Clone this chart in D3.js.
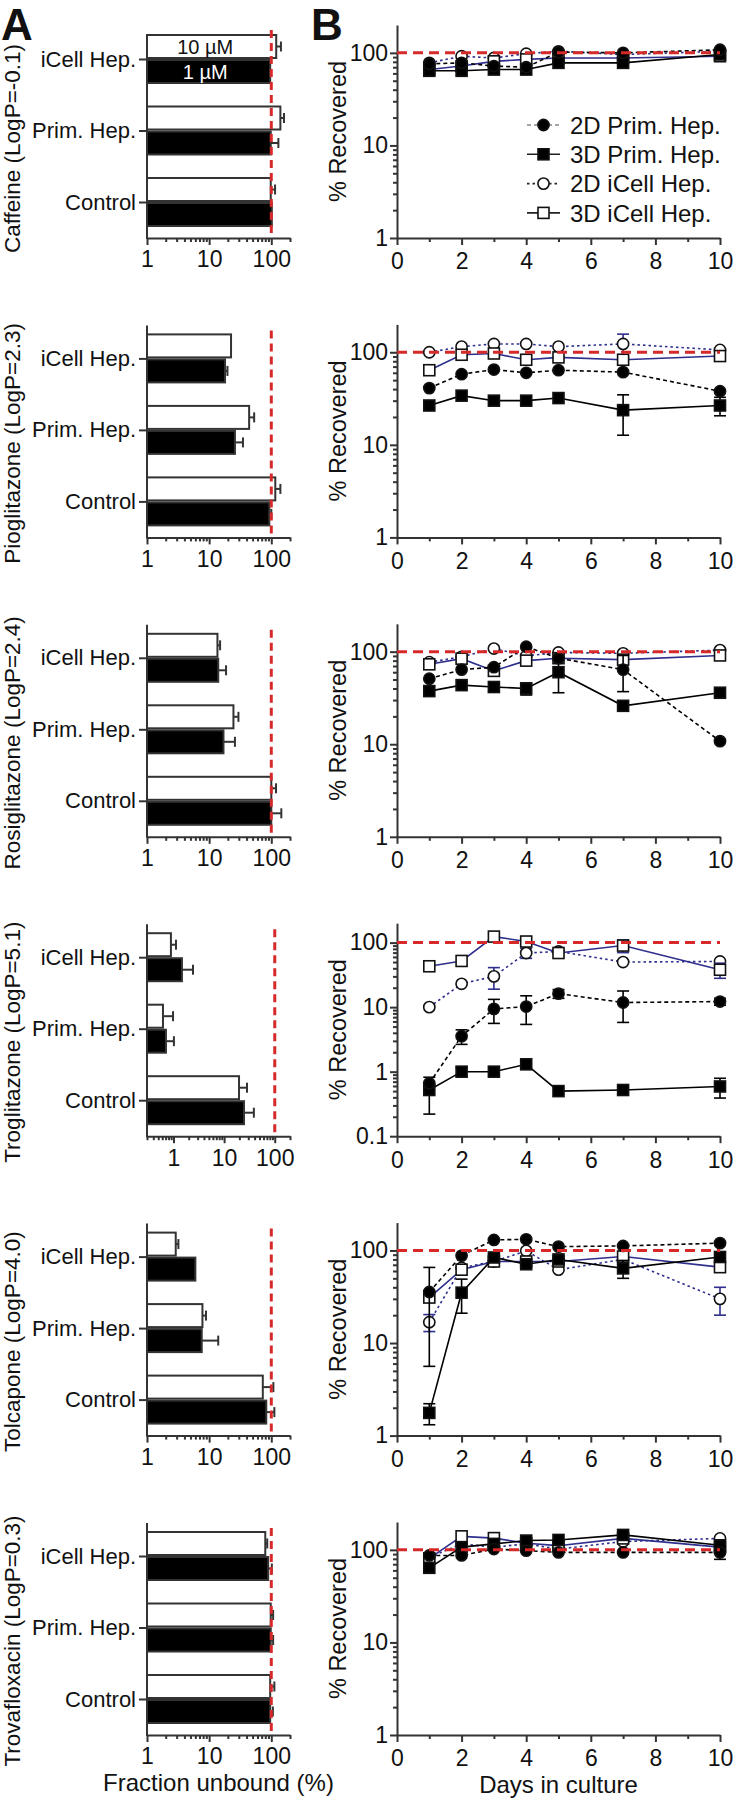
<!DOCTYPE html>
<html>
<head>
<meta charset="utf-8">
<script src="https://cdn.jsdelivr.net/npm/d3@7"></script>
<style>
  body { margin: 0; background: #fff; }
  text { font-family: "Liberation Sans", Arial, sans-serif; fill: #111; }
</style>
</head>
<body>
<script>
// ---- data ----
var drugs = ["Caffeine", "Pioglitazone", "Rosiglitazone", "Troglitazone", "Tolcapone", "Trovafloxacin"];
var logP = ["-0.1", "2.3", "2.4", "5.1", "4.0", "0.3"];
var cells = ["iCell Hep.", "Prim. Hep.", "Control"];

// fraction unbound (%), order = cells; 10 uM (white) and 1 uM (black)
var fu10 = [[120, 140, 98], [22.5, 44, 116], [13.6, 24.6, 100], [0.89, 0.62, 19.7], [2.9, 7.8, 73], [80, 98, 96]];
var fu10Sd = [[23, 20, 17], [0, 9, 24], [1.4, 5, 19], [0.23, 0.36, 8.6], [0.3, 1.1, 35], [6, 9, 16]];
var fu1 = [[96, 98, 102], [18, 26, 93], [14, 17, 100], [1.47, 0.71, 24.7], [6.0, 7.6, 83], [89, 98, 96]];
var fu1Sd = [[0, 32, 0], [1.7, 9, 7], [4.7, 9, 45], [0.96, 0.31, 14], [0, 6.4, 29], [13, 9, 10]];

// % recovered vs days in culture
var days = [1, 2, 3, 4, 5, 7, 10];
var seriesNames = ["2D Prim. Hep.", "3D Prim. Hep.", "2D iCell Hep.", "3D iCell Hep."];
var rec2DPrim = [
  [76, 78, 72, 70, 102, 100, 108],
  [41, 58, 65, 60, 64, 61, 38],
  [51, 64, 68, 113, 85, 64, 10.8],
  [0.66, 3.55, 9.4, 10.2, 16.2, 11.8, 12.2],
  [35.6, 88, 130, 132, 110, 112, 120],
  [87, 87, 102, 98, 94, 94, 94]
];
var rec3DPrim = [
  [64, 64, 66, 66, 78, 78, 96],
  [26.6, 34, 30, 30, 32, 23.7, 26.6],
  [37.5, 43.5, 41.5, 40, 60, 26, 36],
  [0.52, 1.0, 1.0, 1.3, 0.5, 0.52, 0.59],
  [1.76, 35, 84, 71, 80, 64, 85],
  [64, 107, 116, 126, 128, 145, 112]
];
var rec2DiCell = [
  [78, 92, 88, 98, 104, 96, 104],
  [100, 115, 123, 123, 115, 123, 106],
  [77, 88, 108, 90, 98, 96, 104],
  [10, 23, 30, 69, 73, 50, 51],
  [16.8, 65, 76, 99, 62, 80, 30],
  [83, 116, 107, 116, 102, 123, 133]
];
var rec3DiCell = [
  [66, 72, 81, 85, 88, 88, 92],
  [64, 94, 97, 83, 88, 83, 91],
  [73, 84, 62, 80, 85, 82, 91],
  [43, 52, 124, 104, 69, 90, 38],
  [31, 62, 76, 76, 76, 86, 66],
  [81, 140, 134, 118, 111, 133, 107]
];
var sd2DPrim = [
  [0, 0, 0, 0, 0, 0, 0], [0, 0, 0, 0, 0, 0, 0], [0, 0, 0, 0, 0, 27, 0],
  [0, 0.9, 3.8, 4.8, 2.5, 6, 1.5], [30, 0, 0, 0, 0, 0, 0], [0, 0, 0, 0, 0, 0, 15]
];
var sd3DPrim = [
  [0, 0, 0, 0, 0, 0, 0], [0, 0, 0, 0, 0, 11, 6], [0, 0, 5, 6, 24, 0, 0],
  [0.3, 0.15, 0, 0, 0, 0, 0.2], [0.45, 14, 0, 0, 0, 14, 0], [0, 0, 0, 0, 0, 0, 0]
];
var sd2DiCell = [
  [0, 0, 0, 0, 0, 0, 0], [0, 0, 0, 0, 0, 34, 0], [0, 0, 0, 0, 0, 0, 0],
  [0, 0, 11, 12, 0, 0, 0], [3.5, 0, 0, 0, 0, 0, 10], [0, 0, 0, 0, 0, 0, 0]
];
var sd3DiCell = [
  [0, 0, 0, 0, 0, 0, 0], [0, 0, 0, 0, 0, 0, 0], [0, 0, 0, 0, 0, 0, 0],
  [0, 0, 0, 0, 0, 20, 10], [0, 0, 0, 0, 0, 0, 0], [0, 0, 0, 0, 0, 0, 0]
];

var fuTicks = [1, 10, 100];
var dayTicks = [0, 2, 4, 6, 8, 10];

// ---- layout ----
var W = 734, H = 1800;
var aLeft = 147, aRight = 290, bLeft = 397, bRight = 720;
var axisColor = "#333", red = "#d62a2a", blue = "#2e2e8c";

var styles = [
  { vals: rec2DPrim, sd: sd2DPrim, shape: "circle", fill: "#000", color: "#000", dash: "4,3" },
  { vals: rec3DPrim, sd: sd3DPrim, shape: "square", fill: "#000", color: "#000", dash: null },
  { vals: rec2DiCell, sd: sd2DiCell, shape: "circle", fill: "#fff", color: blue, dash: "2.5,3" },
  { vals: rec3DiCell, sd: sd3DiCell, shape: "square", fill: "#fff", color: blue, dash: null }
];
var drawOrder = [2, 3, 1, 0];

var svg = d3.select("body").append("svg")
  .attr("width", W).attr("height", H);

function minorTicks(lo, hi) {
  var out = [];
  for (var e = -2; e <= 3; e++) {
    for (var m = 1; m <= 9; m++) {
      var v = +(m * Math.pow(10, e)).toPrecision(3);
      if (m > 1 && v >= lo * 0.999 && v <= hi * 1.001) out.push(v);
    }
  }
  return out;
}

function styleAxis(g, fs) {
  g.selectAll("path, line").attr("stroke", axisColor).attr("stroke-width", 2);
  g.selectAll("text").attr("fill", "#111").style("font-size", fs + "px")
    .style("font-family", '"Liberation Sans", Arial, sans-serif');
}

function drawMarkers(g, pts, st, fx, fy) {
  if (st.shape === "circle") {
    g.selectAll(null).data(pts).enter().append("circle")
      .attr("cx", fx).attr("cy", fy).attr("r", 5.6)
      .attr("fill", st.fill).attr("stroke", "#111").attr("stroke-width", 1.6);
  } else {
    g.selectAll(null).data(pts).enter().append("rect")
      .attr("x", function(p) { return fx(p) - 5.5; }).attr("y", function(p) { return fy(p) - 5.5; })
      .attr("width", 11).attr("height", 11)
      .attr("fill", st.fill).attr("stroke", "#111").attr("stroke-width", 1.6);
  }
}

drugs.forEach(function(drug, i) {
  var bottom = 238 + i * 299.4;
  var bTop = bottom - 213;
  var aTop = i === 0 ? 35 : bTop + 1;
  var fuLo = drug === "Troglitazone" ? 0.3 : 1;
  var recLo = drug === "Troglitazone" ? 0.1 : 1;

  // ===== panel A: fraction unbound =====
  var x = d3.scaleLog().domain([fuLo, 200]).range([aLeft, aRight]);
  var y = d3.scalePoint().domain(cells).range([bottom - 179, bottom - 36]);
  var gA = svg.append("g");

  // bars
  var barH = 23;
  cells.forEach(function(c, j) {
    [{ v: fu10[i][j], s: fu10Sd[i][j], f: "#fff", dy: -barH - 1 },
     { v: fu1[i][j], s: fu1Sd[i][j], f: "#000", dy: 1 }].forEach(function(b) {
      var yc = y(c) + b.dy + barH / 2;
      if (b.s > 0) {
        gA.append("line").attr("x1", x(b.v)).attr("x2", x(b.v + b.s))
          .attr("y1", yc).attr("y2", yc).attr("stroke", axisColor).attr("stroke-width", 2);
        gA.append("line").attr("x1", x(b.v + b.s)).attr("x2", x(b.v + b.s))
          .attr("y1", yc - 5).attr("y2", yc + 5).attr("stroke", axisColor).attr("stroke-width", 2);
      }
      gA.append("rect").attr("x", aLeft).attr("y", y(c) + b.dy)
        .attr("width", x(b.v) - aLeft).attr("height", barH)
        .attr("fill", b.f).attr("stroke", axisColor).attr("stroke-width", 2);
    });
  });

  if (i === 0) {
    gA.append("text").attr("x", x(10) - 4).attr("y", y(cells[0]) - barH / 2 - 1)
      .attr("dy", "0.36em").attr("text-anchor", "middle").style("font-size", "20px").text("10 \u00b5M");
    gA.append("text").attr("x", x(10) - 4).attr("y", y(cells[0]) + barH / 2 + 1)
      .attr("dy", "0.36em").attr("text-anchor", "middle").style("font-size", "20px")
      .style("fill", "#fff").text("1 \u00b5M");
  }

  // red reference line at 100 %
  gA.append("line").attr("x1", x(100)).attr("x2", x(100))
    .attr("y1", aTop - (i === 0 ? 5 : -5)).attr("y2", bottom)
    .attr("stroke", red).attr("stroke-width", 3).attr("stroke-dasharray", "8,5");

  // axes
  var ax = gA.append("g").attr("transform", "translate(0," + bottom + ")")
    .call(d3.axisBottom(x).tickValues(fuTicks.filter(function(t) { return t >= fuLo; }))
      .tickFormat(d3.format("~g")).tickSize(7).tickSizeOuter(0).tickPadding(6));
  styleAxis(ax, 23);
  var axm = gA.append("g").attr("transform", "translate(0," + bottom + ")")
    .call(d3.axisBottom(x).tickValues(minorTicks(fuLo, 200).filter(function(t) { return fuTicks.indexOf(t) < 0; }))
      .tickFormat("").tickSize(4).tickSizeOuter(0));
  styleAxis(axm, 23);
  axm.select(".domain").remove();

  var ay = gA.append("g").attr("transform", "translate(" + aLeft + ",0)")
    .call(d3.axisLeft(y).tickSize(8).tickPadding(3));
  styleAxis(ay, 22);
  ay.select(".domain").remove();
  gA.append("line").attr("x1", aLeft).attr("x2", aLeft).attr("y1", aTop).attr("y2", bottom + 1)
    .attr("stroke", axisColor).attr("stroke-width", 2);

  gA.append("text")
    .attr("transform", "translate(20," + ((aTop + bottom) / 2 + 12) + ") rotate(-90)")
    .attr("text-anchor", "middle").style("font-size", "22.5px")
    .text(drug + " (LogP=" + logP[i] + ")");

  // ===== panel B: % recovered =====
  var bx = d3.scaleLinear().domain([0, 10]).range([bLeft, bRight]);
  var by = d3.scaleLog().domain([recLo, 200]).range([bottom, bTop]);
  var gB = svg.append("g");

  var bxa = gB.append("g").attr("transform", "translate(0," + bottom + ")")
    .call(d3.axisBottom(bx).tickValues(dayTicks).tickSize(7).tickSizeOuter(0).tickPadding(8));
  styleAxis(bxa, 23);
  var bxm = gB.append("g").attr("transform", "translate(0," + bottom + ")")
    .call(d3.axisBottom(bx).tickValues([1, 3, 5, 7, 9]).tickFormat("").tickSize(4).tickSizeOuter(0));
  styleAxis(bxm, 23);
  bxm.select(".domain").remove();

  var majors = [0.1, 1, 10, 100].filter(function(t) { return t >= recLo; });
  var bya = gB.append("g").attr("transform", "translate(" + bLeft + ",0)")
    .call(d3.axisLeft(by).tickValues(majors).tickFormat(d3.format("~g")).tickSize(7).tickSizeOuter(0).tickPadding(2));
  styleAxis(bya, 23);
  var bym = gB.append("g").attr("transform", "translate(" + bLeft + ",0)")
    .call(d3.axisLeft(by).tickValues(minorTicks(recLo, 199).filter(function(t) { return majors.indexOf(t) < 0; }))
      .tickFormat("").tickSize(4).tickSizeOuter(0));
  styleAxis(bym, 23);
  bym.select(".domain").remove();

  gB.append("text")
    .attr("transform", "translate(" + 346 + "," + ((bTop + bottom) / 2) + ") rotate(-90)")
    .attr("text-anchor", "middle").style("font-size", "23.5px").text("% Recovered");

  // series
  drawOrder.forEach(function(k) {
    var st = styles[k];
    var vals = st.vals[i], sds = st.sd[i];
    var pts = days.map(function(d, n) { return { d: d, v: vals[n], s: sds[n] }; });
    gB.append("path").datum(pts)
      .attr("d", d3.line().x(function(p) { return bx(p.d); }).y(function(p) { return by(p.v); }))
      .attr("fill", "none").attr("stroke", st.color).attr("stroke-width", 1.6)
      .attr("stroke-dasharray", st.dash);
    pts.filter(function(p) { return p.s > 0; }).forEach(function(p) {
      var lo = Math.max(p.v - p.s, recLo), hi = p.v + p.s;
      var xx = bx(p.d);
      gB.append("line").attr("x1", xx).attr("x2", xx).attr("y1", by(lo)).attr("y2", by(hi))
        .attr("stroke", st.color).attr("stroke-width", 1.6);
      [lo, hi].forEach(function(e) {
        gB.append("line").attr("x1", xx - 6).attr("x2", xx + 6).attr("y1", by(e)).attr("y2", by(e))
          .attr("stroke", st.color).attr("stroke-width", 1.6);
      });
    });
    drawMarkers(gB, pts, st, function(p) { return bx(p.d); }, function(p) { return by(p.v); });
  });

  // red reference line at 100 %
  gB.append("line").attr("x1", bLeft).attr("x2", bRight).attr("y1", by(100)).attr("y2", by(100))
    .attr("stroke", red).attr("stroke-width", 3).attr("stroke-dasharray", "10,6");

  // legend in first row
  if (i === 0) {
    seriesNames.forEach(function(name, k) {
      var st = styles[k];
      var ly = 125 + k * 29.3;
      var lg = svg.append("g");
      lg.append("line").attr("x1", 527).attr("x2", 560).attr("y1", ly).attr("y2", ly)
        .attr("stroke", k === 0 ? "#888" : "#222")
        .attr("stroke-width", 1.6).attr("stroke-dasharray", st.dash);
      drawMarkers(lg, [{}], st, function() { return 543.5; }, function() { return ly; });
      lg.append("text").attr("x", 570).attr("y", ly).attr("dy", "0.36em")
        .style("font-size", "24px").text(name);
    });
  }

  if (i === drugs.length - 1) {
    svg.append("text").attr("x", (aLeft + aRight) / 2).attr("y", bottom + 56)
      .attr("text-anchor", "middle").style("font-size", "24px").text("Fraction unbound (%)");
    svg.append("text").attr("x", (bLeft + bRight) / 2).attr("y", bottom + 58)
      .attr("text-anchor", "middle").style("font-size", "24px").text("Days in culture");
  }
});

// panel letters
svg.append("text").attr("x", 1).attr("y", 40).style("font-size", "44px").style("font-weight", "bold").text("A");
svg.append("text").attr("x", 311).attr("y", 40).style("font-size", "44px").style("font-weight", "bold").text("B");
</script>
</body>
</html>
